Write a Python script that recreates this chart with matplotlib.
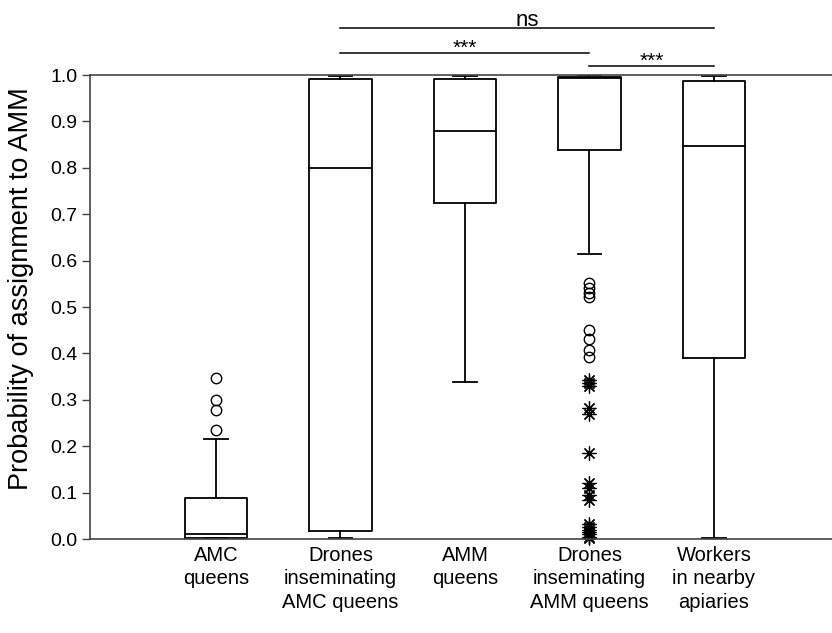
import numpy as np
import matplotlib.pyplot as plt

plt.rcParams['font.family'] = ['Liberation Sans', 'DejaVu Sans']

groups = ['AMC\nqueens', 'Drones\ninseminating\nAMC queens', 'AMM\nqueens',
          'Drones\ninseminating\nAMM queens', 'Workers\nin nearby\napiaries']
q1 = [0.003, 0.018, 0.725, 0.838, 0.390]
med = [0.011, 0.800, 0.880, 0.993, 0.848]
q3 = [0.088, 0.991, 0.991, 0.995, 0.987]
whislo = [0.003, 0.002, 0.338, 0.615, 0.003]
whishi = [0.215, 0.998, 0.998, 0.999, 0.998]

# mild outliers (circles) and extremes (stars)
circles = [[0.347, 0.300, 0.278, 0.235], [], [],
           [0.552, 0.541, 0.531, 0.522, 0.450, 0.430, 0.407, 0.393], []]
stars = [[], [], [],
         [0.342, 0.336, 0.330, 0.282, 0.270, 0.185, 0.120, 0.110, 0.095,
          0.085, 0.032, 0.026, 0.020, 0.015, 0.010, 0.005, 0.002], []]

# comparisons: (group a, group b, label, height)
comparisons = [(2, 5, 'ns', 1.101), (2, 4, '***', 1.047), (4, 5, '***', 1.019)]

fig = plt.figure(figsize=(8.32, 6.33), dpi=100)
ax = fig.add_axes([90/832, 94/633, 742/832, 464/633])

pos = np.arange(1, len(groups) + 1)
stats = []
for i in range(len(groups)):
    stats.append(dict(q1=q1[i], med=med[i], q3=q3[i], whislo=whislo[i],
                      whishi=whishi[i], fliers=circles[i]))

lw = 1.3
ax.bxp(stats, positions=pos, widths=0.5, showfliers=True,
       boxprops=dict(color='black', lw=lw),
       medianprops=dict(color='black', lw=lw),
       whiskerprops=dict(color='black', lw=lw),
       capprops=dict(color='black', lw=lw),
       capwidths=0.19,
       flierprops=dict(marker='o', markerfacecolor='none', markeredgecolor='black',
                       markersize=7.5, markeredgewidth=1.0))

for i, s in enumerate(stars):
    if s:
        ax.plot([pos[i]] * len(s), s, ls='none', marker=(8, 2, 0), color='black',
                markersize=10, markeredgewidth=0.9, clip_on=False)

for a, b, lab, h in comparisons:
    ax.plot([a, b], [h, h], color='black', lw=1.1, clip_on=False)
    if lab == 'ns':
        ax.text((a + b) / 2, h + 0.005, lab, ha='center', va='baseline', fontsize=16)
    else:
        ax.text((a + b) / 2, h - 0.001, lab, ha='center', va='baseline', fontsize=15)

ax.set_xlim(-0.012, 5.948)
ax.set_ylim(0, 1.0)
ax.set_yticks(np.arange(0, 1.01, 0.1))
ax.set_yticklabels(['%.1f' % v for v in np.arange(0, 1.01, 0.1)], fontsize=14)
ax.set_xticks(pos)
ax.set_xticklabels(groups, fontsize=14.5, linespacing=1.3)
ax.tick_params(axis='x', length=0, pad=5)
ax.tick_params(axis='y', length=6, width=1, color='#444444', pad=3)
ax.set_ylabel('Probability of assignment to AMM', fontsize=19.5)
ax.yaxis.set_label_coords(-0.075, 0.539)

for side in ['left', 'top', 'bottom']:
    ax.spines[side].set_color('#444444')
    ax.spines[side].set_linewidth(1.2)
ax.spines['right'].set_visible(False)

fig.savefig('out.png', dpi=100)
